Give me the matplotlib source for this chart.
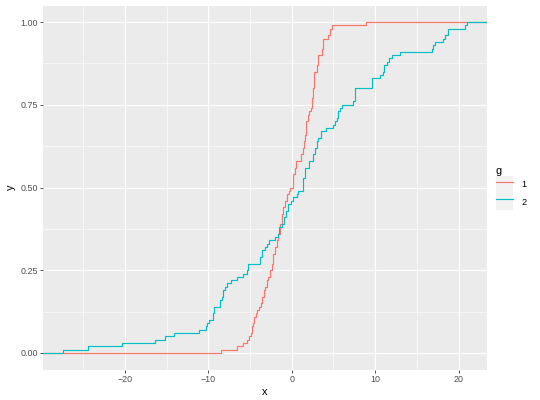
import numpy as np
import matplotlib
matplotlib.use("Agg")
import matplotlib.pyplot as plt  # noqa: E402
from matplotlib.patches import Rectangle  # noqa: E402
from matplotlib.legend_handler import HandlerTuple  # noqa: E402

# ECDF break points: x where the step happens, y after it
g1_x = [-8.5, -6.5, -5.8, -5.4, -5.1, -4.9, -4.7, -4.6, -4.5, -4.3, -4.1, -3.9, -3.7,
        -3.5, -3.3, -3.15, -3.0, -2.8, -2.6, -2.4, -2.2, -2.0, -1.8, -1.6, -1.4, -1.2,
        -1.0, -0.8, -0.6, -0.3, -0.15, 0.1, 0.2, 0.35, 0.5, 1.1, 1.3, 1.45, 1.6, 1.7,
        1.9, 2.1, 2.3, 2.4, 2.6, 2.7, 3.0, 3.1, 3.2, 3.6, 3.8, 4.4, 4.6, 4.8, 8.9]
g1_y = [0.01, 0.02, 0.03, 0.04, 0.05, 0.06, 0.08, 0.09, 0.11, 0.12, 0.13, 0.14, 0.15,
        0.17, 0.19, 0.20, 0.22, 0.23, 0.25, 0.27, 0.30, 0.32, 0.34, 0.36, 0.39, 0.42,
        0.44, 0.46, 0.48, 0.49, 0.50, 0.52, 0.54, 0.56, 0.58, 0.60, 0.62, 0.64, 0.66, 0.70,
        0.72, 0.73, 0.74, 0.77, 0.80, 0.85, 0.87, 0.89, 0.90, 0.92, 0.95, 0.96, 0.98, 0.99, 1.00]

g2_x = [-27.4, -24.4, -20.4, -16.4, -15.2, -14.1, -11.1, -10.3, -10.1, -9.9, -9.4, -9.3,
        -8.6, -8.4, -8.2, -8.0, -7.7, -7.3, -6.5, -5.8, -5.4, -5.2, -3.8, -3.6, -3.2, -3.0,
        -2.7, -2.0, -1.7, -1.5, -1.2, -0.9, -0.7, -0.4, -0.1, 0.1, 0.6, 0.75, 1.4, 1.6,
        2.1, 2.5, 2.6, 2.8, 3.0, 3.2, 3.5, 4.1, 4.9, 5.2, 5.4, 5.6, 5.8, 6.0, 7.35, 7.55,
        9.6, 10.6, 10.9, 11.1, 11.45, 11.7, 12.0, 13.0, 16.8, 17.0, 17.2, 18.2, 18.4, 18.7,
        18.8, 20.8, 21.0]
g2_y = [0.01, 0.02, 0.03, 0.04, 0.05, 0.06, 0.07, 0.08, 0.09, 0.10, 0.12, 0.14,
        0.16, 0.17, 0.19, 0.20, 0.21, 0.22, 0.23, 0.24, 0.25, 0.27, 0.29, 0.31, 0.32, 0.33,
        0.34, 0.35, 0.36, 0.38, 0.39, 0.41, 0.43, 0.45, 0.46, 0.47, 0.48, 0.49, 0.53, 0.56,
        0.58, 0.59, 0.60, 0.62, 0.64, 0.65, 0.67, 0.68, 0.69, 0.70, 0.71, 0.73, 0.74, 0.75, 0.76, 0.80,
        0.83, 0.84, 0.85, 0.87, 0.88, 0.89, 0.90, 0.91, 0.92, 0.93, 0.94, 0.95, 0.96, 0.97,
        0.98, 0.99, 1.00]

groups = ["1", "2"]
colors = ["#F8766D", "#00BFC4"]
x_ticks = [-20, -10, 0, 10, 20]
y_ticks = [0.0, 0.25, 0.5, 0.75, 1.0]
y_labels = ["0.00", "0.25", "0.50", "0.75", "1.00"]

plt.rcParams["font.family"] = ["Liberation Sans", "DejaVu Sans"]
W, H = 540, 400
fig = plt.figure(figsize=(W / 100, H / 100), dpi=100)
ax = fig.add_axes([43.3 / W, 1 - 369.5 / H, 443.4 / W, 364 / H])
ax.set_facecolor("#EBEBEB")
for s in ax.spines.values():
    s.set_visible(False)

lines = []
for gx, gy, col in [(g1_x, g1_y, colors[0]), (g2_x, g2_y, colors[1])]:
    xs = np.r_[-1e3, gx, 1e3]
    ys = np.r_[0.0, gy, 1.0]
    ln, = ax.step(xs, ys, where="post", color=col, lw=0.85, zorder=3)
    lines.append(ln)

ax.set_xlim(-29.78, 23.38)
ax.set_ylim(-0.05, 1.05)
ax.set_xticks(x_ticks)
ax.set_yticks(y_ticks)
ax.set_yticklabels(y_labels)
ax.set_xticks([-25, -15, -5, 5, 15], minor=True)
ax.set_yticks([0.125, 0.375, 0.625, 0.875], minor=True)
ax.grid(which="major", color="white", lw=0.8)
ax.grid(which="minor", color="white", lw=0.4)
ax.set_axisbelow(True)
ax.tick_params(which="major", length=2, width=0.6, color="#333333",
               labelsize=6.4, labelcolor="#4D4D4D", pad=1.8)
ax.tick_params(which="minor", length=0)
ax.set_xlabel("x", fontsize=7.9, labelpad=2)
ax.set_ylabel("y", fontsize=7.9, labelpad=3, rotation=90)

keys = [(Rectangle((0, 0), 1, 1, fc="#F2F2F2", ec="none"), ln) for ln in lines]
leg = fig.legend(keys, groups, title="g", handler_map={tuple: HandlerTuple(ndivide=1, pad=0)},
                 loc="upper left", bbox_to_anchor=(496 / W, 1 - 166 / H), frameon=False,
                 fontsize=6.6, title_fontsize=7.9, handlelength=1.85, handleheight=2.5,
                 handletextpad=0.9, labelspacing=0.0, borderaxespad=0, borderpad=0,
                 alignment="left")

fig.savefig("out.png", dpi=100)
